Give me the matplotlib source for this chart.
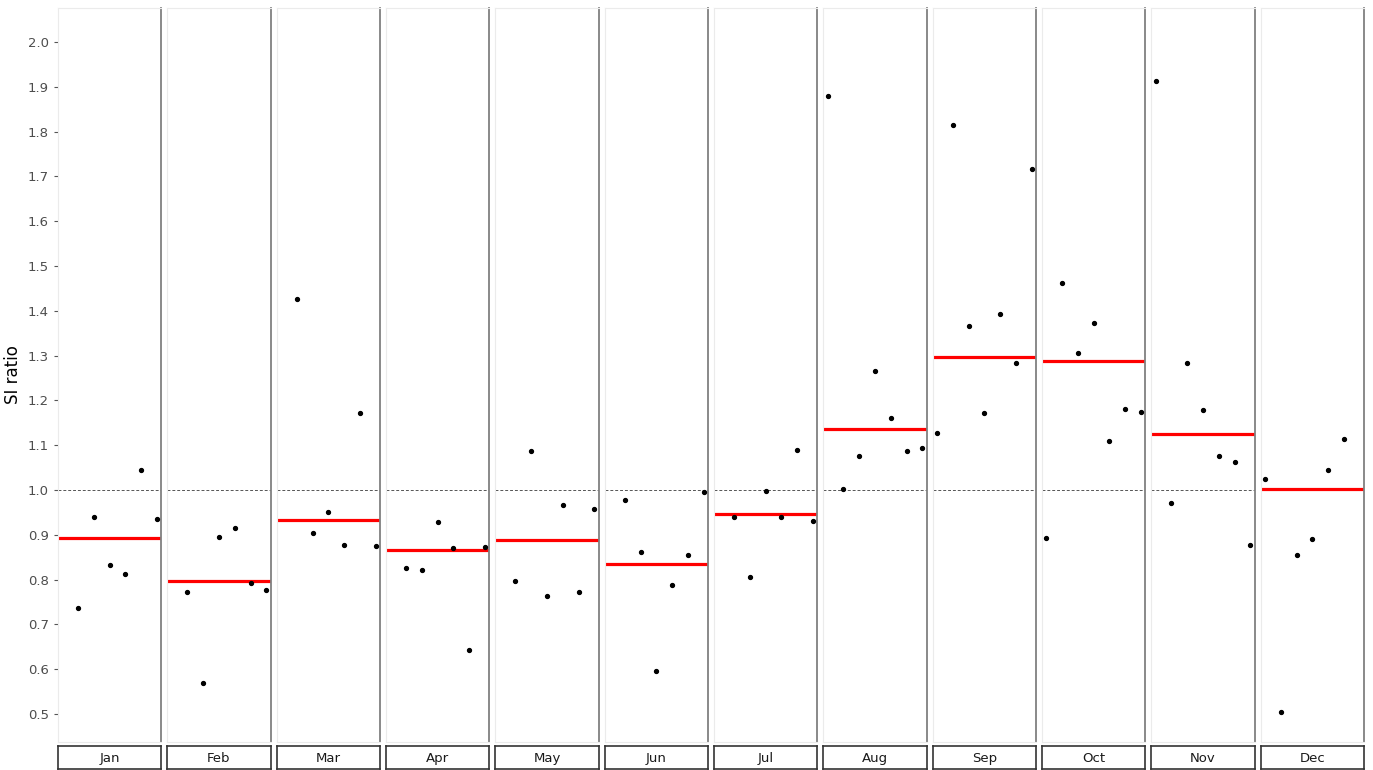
import matplotlib
matplotlib.use('Agg')
import matplotlib.pyplot as plt


months = ['Jan', 'Feb', 'Mar', 'Apr', 'May', 'Jun',
          'Jul', 'Aug', 'Sep', 'Oct', 'Nov', 'Dec']

# year position of each point inside a month panel
pos = {
    'Jan': [2, 3, 4, 5, 6, 7], 'Feb': [2, 3, 4, 5, 6, 7],
    'Mar': [2, 3, 4, 5, 6, 7], 'Apr': [2, 3, 4, 5, 6, 7],
    'May': [2, 3, 4, 5, 6, 7], 'Jun': [2, 3, 4, 5, 6, 7],
    'Jul': [2, 3, 4, 5, 6, 7], 'Aug': [1, 2, 3, 4, 5, 6, 7],
    'Sep': [1, 2, 3, 4, 5, 6, 7], 'Oct': [1, 2, 3, 4, 5, 6, 7],
    'Nov': [1, 2, 3, 4, 5, 6, 7], 'Dec': [1, 2, 3, 4, 5, 6],
}

si = {
    'Jan': [0.737, 0.940, 0.833, 0.813, 1.045, 0.936],
    'Feb': [0.772, 0.569, 0.895, 0.915, 0.792, 0.777],
    'Mar': [1.426, 0.904, 0.951, 0.877, 1.172, 0.875],
    'Apr': [0.826, 0.821, 0.929, 0.871, 0.643, 0.873],
    'May': [0.797, 1.087, 0.763, 0.967, 0.772, 0.958],
    'Jun': [0.978, 0.862, 0.596, 0.788, 0.855, 0.996],
    'Jul': [0.940, 0.806, 0.998, 0.940, 1.089, 0.931],
    'Aug': [1.879, 1.002, 1.076, 1.266, 1.161, 1.087, 1.094],
    'Sep': [1.127, 1.815, 1.366, 1.172, 1.393, 1.283, 1.717],
    'Oct': [0.893, 1.462, 1.306, 1.373, 1.109, 1.181, 1.174],
    'Nov': [1.913, 0.971, 1.283, 1.179, 1.076, 1.063, 0.877],
    'Dec': [1.025, 0.504, 0.855, 0.891, 1.045, 1.114],
}

# seasonal index (red line) per month
level = [0.892, 0.797, 0.934, 0.866, 0.888, 0.834,
         0.946, 1.137, 1.296, 1.288, 1.125, 1.002]

yticks = [0.5, 0.6, 0.7, 0.8, 0.9, 1.0, 1.1, 1.2, 1.3, 1.4, 1.5, 1.6, 1.7, 1.8, 1.9, 2.0]


W, H = 1373, 770
fig = plt.figure(figsize=(W / 100, H / 100), dpi=100)

left, right, top, bottom = 58, 1364, 8, 742
gap = 6
pw = (right - left - 11 * gap) / 12.0

for i, m in enumerate(months):

    x0 = left + i * (pw + gap)
    ax = fig.add_axes([x0 / W, 1 - bottom / H, pw / W, (bottom - top) / H])

    ax.axhline(1.0, color='#555555', lw=0.7, ls=(0, (3, 2)), zorder=1)
    ax.axhline(level[i], color='red', lw=2.3, zorder=2)
    ax.plot(pos[m], si[m], 'o', color='black', ms=2.8, zorder=3)

    ax.set_xlim(0.72, 7.28)
    ax.set_ylim(0.4375, 2.076)
    ax.set_xticks([])

    for s in ['top', 'left', 'bottom']:
        ax.spines[s].set_color('#ebebeb')
        ax.spines[s].set_linewidth(0.8)
    ax.spines['right'].set_color('#808080')
    ax.spines['right'].set_linewidth(1.3)

    if i == 0:
        ax.set_yticks(yticks)
        ax.set_yticklabels(['{:.1f}'.format(v) for v in yticks], color='#4d4d4d', fontsize=9.5)
        ax.tick_params(axis='y', length=3, color='#555555')
        ax.set_ylabel('SI ratio', fontsize=12, labelpad=4)
    else:
        ax.set_yticks([])

    # strip at the bottom
    sx = fig.add_axes([x0 / W, 1 - 769 / H, pw / W, 23 / H])
    sx.set_xticks([])
    sx.set_yticks([])
    for s in sx.spines.values():
        s.set_color('#333333')
        s.set_linewidth(1.2)
    sx.text(0.5, 0.45, m, ha='center', va='center', fontsize=9.5, color='#1a1a1a', transform=sx.transAxes)

fig.savefig('out.png', dpi=100)
